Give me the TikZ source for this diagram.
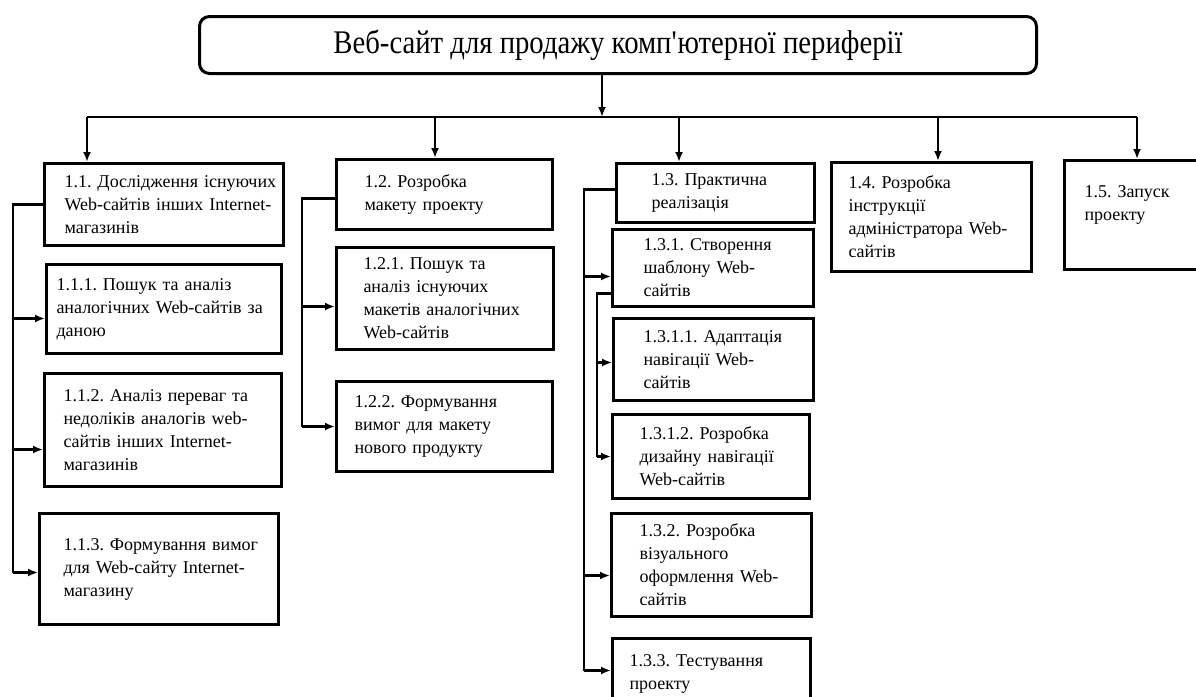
\documentclass[tikz,border=0pt]{standalone}
\usepackage{fontspec}
\setmainfont{Liberation Serif}
\usetikzlibrary{arrows.meta}
\frenchspacing

\tikzset{
  task/.style={draw, line width=3pt, anchor=north west, inner xsep=0pt, inner ysep=0pt,
    align=left, font=\fontsize{18}{23}\selectfont},
  lpad/.style={execute at begin node={\leftskip=#1pt\rightskip=-60pt plus 1fil\relax}},
  link/.style={line width=2.6pt}
}

\begin{document}
\begin{tikzpicture}[x=1pt, y=-1pt, >={Latex[length=10pt,width=8pt]}]
\useasboundingbox (0,0) rectangle (1196,696);

% Root
\node[draw, line width=3pt, rounded corners=10pt, anchor=north west, minimum width=837pt,
  minimum height=57pt, font=\fontsize{33}{35}\selectfont\addfontfeature{FakeStretch=0.87}]
  (web) at (198,15) {Веб-сайт для продажу комп\textquotesingle ютерної периферії};

% Level 1
\node[task, text width=239pt, minimum height=82pt, lpad=20] (n11) at (43,162)
  {1.1. Дослідження існуючих\\Web-сайтів інших Internet-\\магазинів};
\node[task, text width=216pt, minimum height=70pt, lpad=28] (n12) at (335,158)
  {1.2. Розробка\\макету проекту};
\node[task, text width=198pt, minimum height=59pt, lpad=35] (n13) at (615,162)
  {1.3. Практична\\реалізація};
\node[task, text width=200pt, minimum height=109pt, lpad=17] (n14) at (830,161)
  {1.4. Розробка\\інструкції\\адміністратора Web-\\сайтів};
\node[task, text width=150pt, minimum height=109pt, lpad=20] (n15) at (1063,159)
  {1.5. Запуск\\проекту\\\mbox{}};

% 1.1 branch
\node[task, text width=235pt, minimum height=89pt, lpad=10] (n111) at (45,263)
  {1.1.1. Пошук та аналіз\\аналогічних Web-сайтів за\\даною};
\node[task, text width=237pt, minimum height=113pt, lpad=19] (n112) at (43,372)
  {1.1.2. Аналіз переваг та\\недоліків аналогів web-\\сайтів інших Internet-\\магазинів};
\node[task, text width=239pt, minimum height=111pt, lpad=24] (n113) at (38,512)
  {1.1.3. Формування вимог\\для Web-сайту Internet-\\магазину};

% 1.2 branch
\node[task, text width=217pt, minimum height=102pt, lpad=27] (n121) at (335,246)
  {1.2.1. Пошук та\\аналіз існуючих\\макетів аналогічних\\Web-сайтів};
\node[task, text width=216pt, minimum height=90pt, lpad=18] (n122) at (335,380)
  {1.2.2. Формування\\вимог для макету\\нового продукту};

% 1.3 branch
\node[task, text width=201pt, minimum height=77pt, lpad=31] (n131) at (611,228)
  {1.3.1. Створення\\шаблону Web-\\сайтів};
\node[task, text width=200pt, minimum height=82pt, lpad=30] (n1311) at (612,317)
  {1.3.1.1. Адаптація\\навігації Web-\\сайтів};
\node[task, text width=197pt, minimum height=84pt, lpad=27] (n1312) at (611,413)
  {1.3.1.2. Розробка\\дизайну навігації\\Web-сайтів};
\node[task, text width=200pt, minimum height=103pt, lpad=28] (n132) at (610,512)
  {1.3.2. Розробка\\візуального\\оформлення Web-\\сайтів};
\node[task, text width=198pt, minimum height=70pt, lpad=17] (n133) at (611,637)
  {1.3.3. Тестування\\проекту};

% Bus from the root
\coordinate (busL) at (87,117);
\coordinate (busR) at (1137,117);
\draw[link] (busL) -- (busR);
\draw[link, ->] ([xshift=-16pt]web.south) -- ([xshift=-16pt]web.south |- busL);
\foreach \n/\dx in {n11/44, n12/100, n13/64, n14/108, n15/74}
  \draw[link, ->] ([xshift=\dx pt]\n.north west |- busL) -- ([xshift=\dx pt]\n.north west);

% Side rails
\coordinate (r1) at (13,0);
\coordinate (r2) at (302,0);
\coordinate (r3) at (584,0);
\coordinate (r4) at (597,0);

\draw[link] (n11.west) -- (n11.west -| r1) -- ([yshift=-3.5pt]n113.west -| r1);
\foreach \n/\dy in {n111/-9.5, n112/-19.5, n113/-3.5}
  \draw[link, ->] ([yshift=\dy pt]\n.west -| r1) -- ([yshift=\dy pt]\n.west);

\draw[link] ([yshift=-4pt]n12.west) -- ([yshift=-4pt]n12.west -| r2) -- (n122.west -| r2);
\foreach \n/\dy in {n121/-8, n122/0}
  \draw[link, ->] ([yshift=\dy pt]\n.west -| r2) -- ([yshift=\dy pt]\n.west);

\draw[link] ([yshift=3.5pt]n13.west) -- ([yshift=3.5pt]n13.west -| r3) -- ([yshift=3pt]n133.west -| r3);
\foreach \n/\dy in {n131/-8.5, n132/-10.5, n133/3}
  \draw[link, ->] ([yshift=\dy pt]\n.west -| r3) -- ([yshift=\dy pt]\n.west);

\draw[link] ([yshift=-25.5pt]n131.west) -- ([yshift=-25.5pt]n131.west -| r4) -- (n1312.west -| r4);
\foreach \n/\dy in {n1311/-3, n1312/0}
  \draw[link, ->] ([yshift=\dy pt]\n.west -| r4) -- ([yshift=\dy pt]\n.west);

\end{tikzpicture}
\end{document}
